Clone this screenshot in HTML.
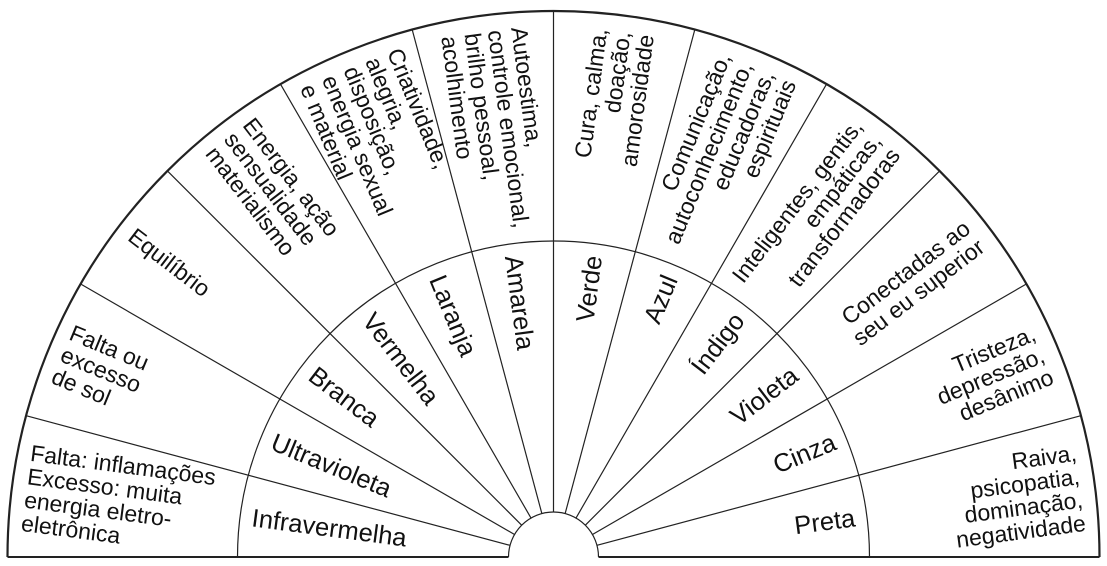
<!DOCTYPE html>
<html><head><meta charset="utf-8"><style>
html,body{margin:0;padding:0;background:#fff;}
svg{display:block;}
text{font-family:"Liberation Sans",Arial,sans-serif;fill:#111;}
.o{font-size:23px;}
.i{font-size:25.5px;}
</style></head><body>
<svg width="1107" height="566" viewBox="0 0 1107 566" xmlns="http://www.w3.org/2000/svg">
<g stroke="#222" fill="none">
<path d="M7.5 557 A546 546 0 0 1 1099.5 557" stroke-width="2.2"/>
<path d="M237.5 557 A316 316 0 0 1 869.5 557" stroke-width="1.2"/>
<path d="M508.5 557 A45 45 0 0 1 598.5 557" stroke-width="1.2"/>
<path d="M7.5 557 H508.5 M598.5 557 H1099.5" stroke-width="2"/>
<g transform="translate(553.5,557)" stroke-width="1.2">
<line x1="-546" y1="0" x2="-45" y2="0" transform="rotate(15)"/>
<line x1="-546" y1="0" x2="-45" y2="0" transform="rotate(30)"/>
<line x1="-546" y1="0" x2="-45" y2="0" transform="rotate(45)"/>
<line x1="-546" y1="0" x2="-45" y2="0" transform="rotate(60)"/>
<line x1="-546" y1="0" x2="-45" y2="0" transform="rotate(75)"/>
<line x1="-546" y1="0" x2="-45" y2="0" transform="rotate(90)"/>
<line x1="-546" y1="0" x2="-45" y2="0" transform="rotate(105)"/>
<line x1="-546" y1="0" x2="-45" y2="0" transform="rotate(120)"/>
<line x1="-546" y1="0" x2="-45" y2="0" transform="rotate(135)"/>
<line x1="-546" y1="0" x2="-45" y2="0" transform="rotate(150)"/>
<line x1="-546" y1="0" x2="-45" y2="0" transform="rotate(165)"/>
</g>
</g>
<g transform="translate(553.5,557)">
<g class="i">
<text transform="rotate(7.5)" x="-304" y="9">Infravermelha</text>
<text transform="rotate(22.5)" x="-304" y="9">Ultravioleta</text>
<text transform="rotate(37.5)" x="-304" y="9">Branca</text>
<text transform="rotate(52.5)" x="-304" y="9">Vermelha</text>
<text transform="rotate(67.5)" x="-304" y="9">Laranja</text>
<text transform="rotate(82.5)" x="-304" y="9">Amarela</text>
<text transform="rotate(-82.5)" x="304" y="9" text-anchor="end">Verde</text>
<text transform="rotate(-67.5)" x="304" y="9" text-anchor="end">Azul</text>
<text transform="rotate(-52.5)" x="304" y="9" text-anchor="end">Índigo</text>
<text transform="rotate(-37.5)" x="304" y="9" text-anchor="end">Violeta</text>
<text transform="rotate(-22.5)" x="304" y="9" text-anchor="end">Cinza</text>
<text transform="rotate(-7.5)" x="304" y="9" text-anchor="end">Preta</text>
</g>
<g class="o">
<text transform="rotate(7.5)"><tspan x="-532" y="-27">Falta: inflamações</tspan><tspan x="-532" y="-3.5">Excesso: muita</tspan><tspan x="-532" y="20">energia eletro-</tspan><tspan x="-532" y="43.5">eletrônica</tspan></text>
<text transform="rotate(22.5)"><tspan x="-532" y="-15.5">Falta ou</tspan><tspan x="-532" y="8">excesso</tspan><tspan x="-532" y="31.5">de sol</tspan></text>
<text transform="rotate(37.5)"><tspan x="-532" y="8">Equilíbrio</tspan></text>
<text transform="rotate(52.5)"><tspan x="-532" y="-15.5">Energia, ação</tspan><tspan x="-532" y="8">sensualidade</tspan><tspan x="-532" y="31.5">materialismo</tspan></text>
<text transform="rotate(67.5)"><tspan x="-530" y="-39">Criatividade,</tspan><tspan x="-530" y="-15.5">alegria,</tspan><tspan x="-530" y="8">disposição,</tspan><tspan x="-530" y="31.5">energia sexual</tspan><tspan x="-530" y="55">e material</tspan></text>
<text transform="rotate(82.5)"><tspan x="-530" y="-27">Autoestima,</tspan><tspan x="-530" y="-3.5">controle emocional,</tspan><tspan x="-530" y="20">brilho pessoal,</tspan><tspan x="-530" y="43.5">acolhimento</tspan></text>
<text transform="rotate(-82.5)" text-anchor="end"><tspan x="530" y="-15.5">Cura, calma,</tspan><tspan x="530" y="8">doação,</tspan><tspan x="530" y="31.5">amorosidade</tspan></text>
<text transform="rotate(-67.5)" text-anchor="end"><tspan x="530" y="-27">Comunicação,</tspan><tspan x="530" y="-3.5">autoconhecimento,</tspan><tspan x="530" y="20">educadoras,</tspan><tspan x="530" y="43.5">espirituais</tspan></text>
<text transform="rotate(-52.5)" text-anchor="end"><tspan x="530" y="-15.5">Inteligentes, gentis,</tspan><tspan x="530" y="8">empáticas,</tspan><tspan x="530" y="31.5">transformadoras</tspan></text>
<text transform="rotate(-37.5)" text-anchor="end"><tspan x="530" y="-3.5">Conectadas ao</tspan><tspan x="530" y="20">seu eu superior</tspan></text>
<text transform="rotate(-22.5)" text-anchor="end"><tspan x="530" y="-15.5">Tristeza,</tspan><tspan x="530" y="8">depressão,</tspan><tspan x="530" y="31.5">desânimo</tspan></text>
<text transform="rotate(-7.5)" text-anchor="end"><tspan x="532" y="-27">Raiva,</tspan><tspan x="532" y="-3.5">psicopatia,</tspan><tspan x="532" y="20">dominação,</tspan><tspan x="532" y="43.5">negatividade</tspan></text>
</g>
</g>
</svg>
</body></html>
